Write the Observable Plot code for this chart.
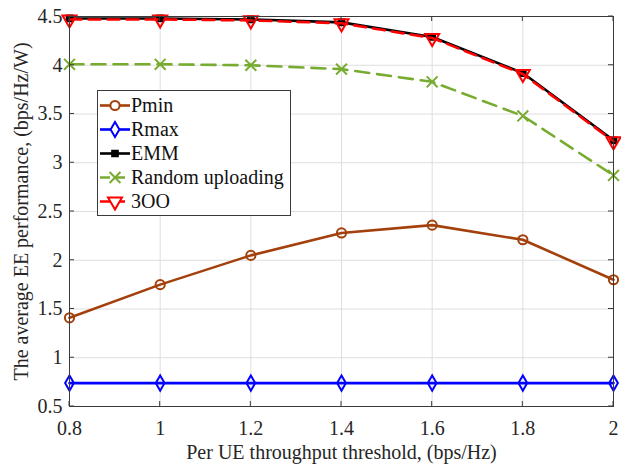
<!DOCTYPE html>
<html><head><meta charset="utf-8">
<script src="https://cdn.jsdelivr.net/npm/d3@7"></script>
<script src="https://cdn.jsdelivr.net/npm/@observablehq/plot@0.6"></script>
<style>body{margin:0;background:#fff}</style>
</head><body><div id="chart"></div>
<script>
// ---- data ----
const thresholds = [0.8, 1.0, 1.2, 1.4, 1.6, 1.8, 2.0];
const pmin   = [1.41, 1.75, 2.05, 2.28, 2.36, 2.21, 1.80];
const rmax   = [0.74, 0.74, 0.74, 0.74, 0.74, 0.74, 0.74];
const emm    = [4.48, 4.48, 4.47, 4.44, 4.29, 3.92, 3.23];
const random = [4.01, 4.01, 4.00, 3.96, 3.83, 3.48, 2.87];
const ooo    = [4.47, 4.47, 4.46, 4.43, 4.28, 3.91, 3.22];
const seriesNames = ["Pmin", "Rmax", "EMM", "Random uploading", "3OO"];
const seriesValues = [pmin, rmax, emm, random, ooo];
const xTicks = [0.8, 1, 1.2, 1.4, 1.6, 1.8, 2];
const yTicks = [0.5, 1, 1.5, 2, 2.5, 3, 3.5, 4, 4.5];
const xLabel = "Per UE throughput threshold, (bps/Hz)";
const yLabel = "The average EE performance, (bps/Hz/W)";

// ---- styles ----
const styles = [
  {color: "#a3400b", symbol: "circle",   r: 4.6, fill: "none", dash: null,   rotate: 0},
  {color: "#0000ff", symbol: "diamond",  r: 4.6, fill: "none", dash: null,   rotate: 0},
  {color: "#000000", symbol: "square",   r: 3.2, fill: "#000", dash: null,   rotate: 0},
  {color: "#77ac30", symbol: "times",    r: 5.0, fill: "none", dash: "14,8", rotate: 0},
  {color: "#ff0000", symbol: "triangle", r: 5.2, fill: "none", dash: "12,7", rotate: 180}
];

const rows = seriesNames.flatMap((name, i) =>
  thresholds.map((x, j) => ({series: name, x, y: seriesValues[i][j]})));

const FONT = "Liberation Serif, Times New Roman, serif";
const fmt = d => String(d);
const marks = [
  Plot.gridX(xTicks, {stroke: "#dedede", strokeOpacity: 1}),
  Plot.gridY(yTicks, {stroke: "#dedede", strokeOpacity: 1}),
  Plot.axisX(xTicks, {tickSize: 0, tickPadding: 14, label: null, fontSize: 20, fill: "#262626", tickFormat: fmt}),
  Plot.axisY(yTicks, {tickSize: 0, tickPadding: 7, label: null, fontSize: 20, fill: "#262626", tickFormat: fmt})
];
seriesNames.forEach((name, i) => {
  const s = styles[i];
  const d = rows.filter(r => r.series === name);
  marks.push(Plot.line(d, {x: "x", y: "y", stroke: s.color, strokeWidth: 2.6,
    strokeDasharray: s.dash ?? undefined}));
  marks.push(Plot.dot(d, {x: "x", y: "y", symbol: s.symbol, r: s.r, stroke: s.color,
    fill: s.fill, strokeWidth: 2, rotate: s.rotate}));
});
marks.push(Plot.frame({stroke: "#3a3a3a", strokeWidth: 1}));
marks.push(Plot.text([xLabel], {text: d => d, frameAnchor: "bottom", dy: 46.5,
  lineAnchor: "middle", textAnchor: "middle", fontSize: 20, fill: "#262626"}));
marks.push(Plot.text([yLabel], {text: d => d, frameAnchor: "left", dx: -47.5, rotate: -90,
  lineAnchor: "middle", textAnchor: "middle", fontSize: 20, fill: "#262626"}));

const chart = Plot.plot({
  width: 621, height: 466,
  marginLeft: 69, marginRight: 8, marginTop: 16, marginBottom: 60,
  style: {fontFamily: FONT, background: "#fff", color: "#262626"},
  x: {domain: [0.8, 2]},
  y: {domain: [0.5, 4.5]},
  marks
});
document.getElementById("chart").appendChild(chart);

// inward tick marks using the plot's scales
const sx = chart.scale("x"), sy = chart.scale("y");
const svg = d3.select(chart);
const g = svg.append("g").attr("stroke", "#3a3a3a").attr("stroke-width", 1);
const [yb, yt] = [sy.apply(0.5), sy.apply(4.5)];
const [xl, xr] = [sx.apply(0.8), sx.apply(2)];
xTicks.forEach(v => {
  const x = sx.apply(v);
  g.append("line").attr("x1", x).attr("x2", x).attr("y1", yb).attr("y2", yb - 5);
  g.append("line").attr("x1", x).attr("x2", x).attr("y1", yt).attr("y2", yt + 5);
});
yTicks.forEach(v => {
  const y = sy.apply(v);
  g.append("line").attr("x1", xl).attr("x2", xl + 5).attr("y1", y).attr("y2", y);
  g.append("line").attr("x1", xr).attr("x2", xr - 5).attr("y1", y).attr("y2", y);
});

// legend
const symMap = {circle: d3.symbolCircle, diamond: d3.symbolDiamond, square: d3.symbolSquare,
  times: d3.symbolTimes, triangle: d3.symbolTriangle};
const lg = svg.append("g").attr("font-family", FONT).attr("font-size", 20).attr("text-anchor", "start");
lg.append("rect").attr("x", 97.5).attr("y", 90.5).attr("width", 193).attr("height", 125)
  .attr("fill", "#fff").attr("stroke", "#3a3a3a").attr("stroke-width", 1);
seriesNames.forEach((name, i) => {
  const s = styles[i];
  const cy = 105.5 + i * 24;
  lg.append("line").attr("x1", 100).attr("x2", 130).attr("y1", cy).attr("y2", cy)
    .attr("stroke", s.color).attr("stroke-width", 2.6)
    .attr("stroke-dasharray", s.dash ? "10,5" : null);
  lg.append("path").attr("d", d3.symbol(symMap[s.symbol], s.r * s.r * Math.PI)())
    .attr("transform", `translate(115,${cy}) rotate(${s.rotate})`)
    .attr("stroke", s.color).attr("stroke-width", 2)
    .attr("fill", s.fill === "none" ? "#fff" : s.fill);
  lg.append("text").attr("x", 131).attr("y", cy).attr("dy", "0.34em")
    .attr("text-anchor", "start").attr("fill", "#111").text(name);
});
</script>
</body></html>
